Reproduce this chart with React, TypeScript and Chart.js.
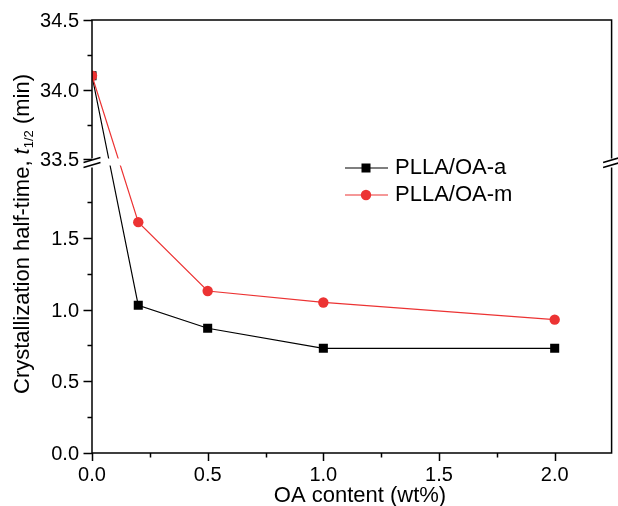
import React, { useEffect, useRef } from "react";
import { Chart, registerables } from "chart.js";

Chart.register(...registerables);

// ---- data ----
const oaContent = [0, 0.2, 0.5, 1.0, 2.0];
const seriesA = [34.1, 1.03, 0.87, 0.73, 0.73]; // PLLA/OA-a
const seriesM = [34.1, 1.61, 1.13, 1.05, 0.93]; // PLLA/OA-m
const seriesNames = ["PLLA/OA-a", "PLLA/OA-m"];
const xMajorTicks = [0, 0.5, 1.0, 1.5, 2.0];
const xMinorTicks = [0.25, 0.75, 1.25, 1.75];
const yLowerMajor = [0, 0.5, 1.0, 1.5];
const yLowerMinor = [0.25, 0.75, 1.25, 1.75];
const yUpperMajor = [33.5, 34.0, 34.5];
const yUpperMinor = [33.75, 34.25];

// broken-axis mapping: lower segment 0..2, upper segment 33.5..34.5
const BREAK_BASE = 2.048;
const UPPER_K = 0.972;
const mapY = (v: number) => (v < 10 ? v : BREAK_BASE + (v - 33.5) * UPPER_K);
const Y_MAX = mapY(34.5);
const X_MAX = 2.246;

const FONT = '"Liberation Sans", Arial, Helvetica, sans-serif';
const RED = "#ec3333";

const axisPlugin = {
  id: "brokenAxes",
  afterDatasetsDraw(chart: any) {
    const ctx = chart.ctx as CanvasRenderingContext2D;
    const { left, right, top, bottom } = chart.chartArea;
    const xs = chart.scales.x;
    const ys = chart.scales.y;
    ctx.save();

    // white gap in the data lines at the break
    const gTop = 158.5;
    const gBot = 165.5;
    ctx.fillStyle = "#ffffff";
    ctx.fillRect(left + 1, gTop, right - left - 2, gBot - gTop);

    ctx.strokeStyle = "#000";
    ctx.lineWidth = 1.5;
    ctx.lineCap = "butt";
    ctx.beginPath();
    // bottom & top
    ctx.moveTo(left - 0.75, bottom);
    ctx.lineTo(right + 0.75, bottom);
    ctx.moveTo(left - 0.75, top);
    ctx.lineTo(right + 0.75, top);
    // left & right with gap
    for (const xc of [left, right]) {
      ctx.moveTo(xc, top);
      ctx.lineTo(xc, 158.5);
      ctx.moveTo(xc, 167.5);
      ctx.lineTo(xc, bottom);
    }
    ctx.stroke();

    // break marks
    ctx.lineWidth = 1.5;
    ctx.beginPath();
    for (const xc of [left, right]) {
      ctx.moveTo(xc - 8.5, 162.5);
      ctx.lineTo(xc + 8.5, 157.5);
      ctx.moveTo(xc - 8.5, 167.5);
      ctx.lineTo(xc + 8.5, 162.5);
    }
    ctx.stroke();

    // y ticks
    ctx.lineWidth = 1.5;
    ctx.beginPath();
    const yMaj = [...yLowerMajor, ...yUpperMajor];
    const yMin = [...yLowerMinor, ...yUpperMinor];
    for (const v of yMaj) {
      const p = Math.round(ys.getPixelForValue(mapY(v))) + 0.5;
      ctx.moveTo(left - 8.5, p);
      ctx.lineTo(left, p);
    }
    for (const v of yMin) {
      const p = Math.round(ys.getPixelForValue(mapY(v))) + 0.5;
      ctx.moveTo(left - 4.5, p);
      ctx.lineTo(left, p);
    }
    // x ticks
    for (const v of xMajorTicks) {
      const p = Math.round(xs.getPixelForValue(v)) + 0.5;
      ctx.moveTo(p, bottom);
      ctx.lineTo(p, bottom + 8);
    }
    for (const v of xMinorTicks) {
      const p = Math.round(xs.getPixelForValue(v)) + 0.5;
      ctx.moveTo(p, bottom);
      ctx.lineTo(p, bottom + 4.5);
    }
    ctx.stroke();

    // tick labels
    ctx.fillStyle = "#000";
    ctx.font = `20px ${FONT}`;
    ctx.textBaseline = "alphabetic";
    ctx.textAlign = "right";
    for (const v of yMaj) {
      const p = ys.getPixelForValue(mapY(v));
      ctx.fillText(v.toFixed(1), left - 13, p + 7);
    }
    ctx.textAlign = "center";
    for (const v of xMajorTicks) {
      const p = xs.getPixelForValue(v);
      ctx.fillText(v.toFixed(1), p, bottom + 28);
    }

    // x title
    ctx.font = `22px ${FONT}`;
    ctx.fillText("OA content (wt%)", 360, 502);

    // y title (rotated, with italic t and subscript)
    const parts: { t: string; font: string; dy: number }[] = [
      { t: "Crystallization half-time, ", font: `22px ${FONT}`, dy: 0 },
      { t: "t", font: `italic 22px ${FONT}`, dy: 0 },
      { t: "1/2", font: `13px ${FONT}`, dy: 4 },
      { t: " (min)", font: `22px ${FONT}`, dy: 0 },
    ];
    let total = 0;
    for (const p of parts) {
      ctx.font = p.font;
      total += ctx.measureText(p.t).width;
    }
    ctx.save();
    ctx.translate(29, 234);
    ctx.rotate(-Math.PI / 2);
    ctx.textAlign = "left";
    let cx = -total / 2;
    for (const p of parts) {
      ctx.font = p.font;
      ctx.fillText(p.t, cx, p.dy);
      cx += ctx.measureText(p.t).width;
    }
    ctx.restore();

    // legend
    const rows = [
      { name: seriesNames[0], color: "#000", style: "rect", y: 168 },
      { name: seriesNames[1], color: RED, style: "circle", y: 195 },
    ];
    ctx.font = `22px ${FONT}`;
    ctx.textAlign = "left";
    for (const r of rows) {
      ctx.strokeStyle = r.color;
      ctx.lineWidth = 1.2;
      ctx.beginPath();
      ctx.moveTo(345, r.y);
      ctx.lineTo(388, r.y);
      ctx.stroke();
      ctx.fillStyle = r.color;
      if (r.style === "rect") {
        ctx.fillRect(366 - 4.5, r.y - 4.5, 9, 9);
      } else {
        ctx.beginPath();
        ctx.arc(366, r.y, 5.2, 0, Math.PI * 2);
        ctx.fill();
      }
      ctx.fillStyle = "#000";
      ctx.fillText(r.name, 395, r.y + 6);
    }

    ctx.restore();
  },
};

export default function App() {
  const ref = useRef<HTMLCanvasElement | null>(null);
  useEffect(() => {
    if (!ref.current) return;
    const chart = new Chart(ref.current, {
      type: "line",
      data: {
        datasets: [
          {
            label: seriesNames[0],
            data: oaContent.map((x, i) => ({ x, y: mapY(seriesA[i]) })),
            borderColor: "#000",
            backgroundColor: "#000",
            borderWidth: 1.2,
            pointStyle: "rect",
            pointRadius: 6.4,
            pointBorderWidth: 0,
            pointBackgroundColor: "#000",
            clip: 0,
            order: 2,
          },
          {
            label: seriesNames[1],
            data: oaContent.map((x, i) => ({ x, y: mapY(seriesM[i]) })),
            borderColor: RED,
            backgroundColor: RED,
            borderWidth: 1.2,
            pointStyle: "circle",
            pointRadius: 5.2,
            pointBorderWidth: 0,
            pointBackgroundColor: RED,
            clip: 0,
            order: 1,
          },
        ],
      },
      options: {
        animation: false,
        responsive: false,
        devicePixelRatio: 1,
        layout: { padding: { left: 92, right: 6, top: 20, bottom: 53 } },
        plugins: { legend: { display: false }, tooltip: { enabled: false } },
        scales: {
          x: { type: "linear", min: 0, max: X_MAX, display: false },
          y: { type: "linear", min: 0, max: Y_MAX, display: false },
        },
      },
      plugins: [axisPlugin],
    });
    return () => chart.destroy();
  }, []);
  return (
    <canvas
      ref={ref}
      width={618}
      height={506}
      style={{ position: "absolute", left: 0, top: 0, width: 618, height: 506 }}
    />
  );
}
